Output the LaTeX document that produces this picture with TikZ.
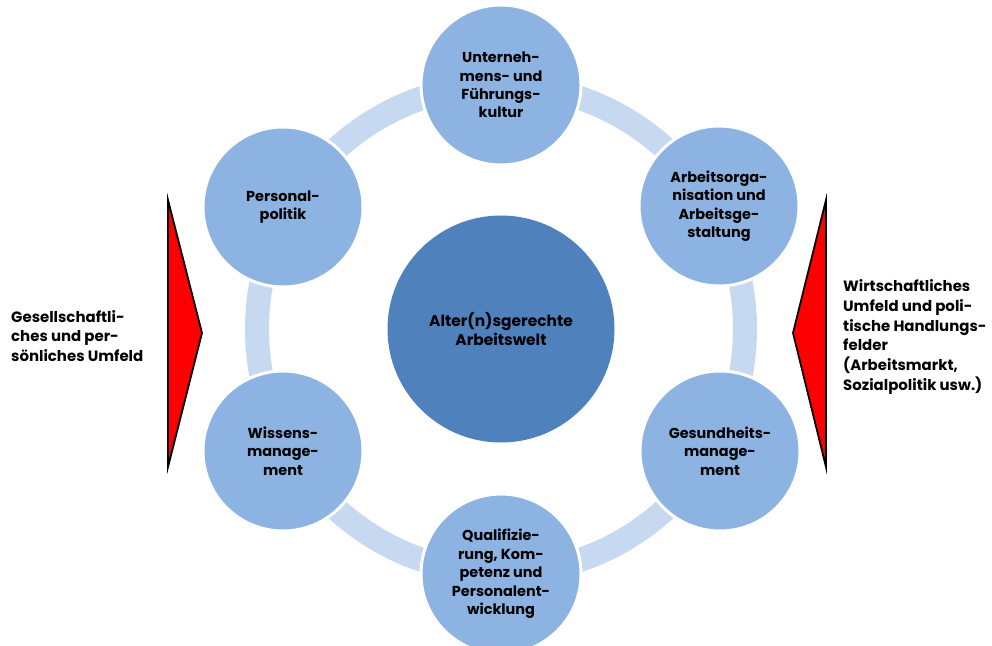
\documentclass[tikz,border=0pt]{standalone}
\usepackage{fontspec}
\setmainfont{Poppins}
\definecolor{satcol}{HTML}{8DB3E2}
\definecolor{ctrcol}{HTML}{4F81BD}
\definecolor{bandcol}{HTML}{C6D9F1}
\newcommand{\lblfont}{\fontsize{14.5}{18.5}\selectfont\bfseries}
\newcommand{\ctrfont}{\fontsize{15.5}{19}\selectfont\bfseries}
\newcommand{\sidefont}{\fontsize{15}{20}\selectfont\bfseries}
\begin{document}
\begin{tikzpicture}[x=1bp,y=-1bp,
  satnode/.style={circle,fill=satcol,draw=white,line width=3bp,minimum size=160bp,inner sep=0pt,align=center,font=\lblfont},
  ctrnode/.style={circle,fill=ctrcol,minimum size=227bp,inner sep=0pt,align=center,font=\ctrfont},
  bandline/.style={draw=bandcol,line width=24bp},
  wedge/.style={fill=red,draw=black,line width=1.8bp,line join=miter},
  sidetext/.style={align=left,font=\sidefont,inner sep=0pt,anchor=west}]
\useasboundingbox (0,0) rectangle (992,646);
\clip (0,0) rectangle (992,646);
\node[ctrnode] (c) at (501,329) {Alter(n)sgerechte\\Arbeitswelt};
\draw[bandline] (c.center) circle (244bp);
\node[satnode] (top) at (501,85) {Unterneh-\\mens- und\\Führungs-\\kultur};
\node[satnode] (ur) at (719,206) {Arbeitsorga-\\nisation und\\Arbeitsge-\\staltung};
\node[satnode] (lr) at (720,451) {Gesundheits-\\manage-\\ment};
\node[satnode] (bot) at (501,574) {Qualifizie-\\rung, Kom-\\petenz und\\Personalent-\\wicklung};
\node[satnode] (ll) at (283,451) {Wissens-\\manage-\\ment};
\node[satnode] (ul) at (283,207) {Personal-\\politik};
\filldraw[wedge] (168,200) -- (202,333) -- (168,467) -- cycle;
\filldraw[wedge] (826,200) -- (793,333) -- (826,467) -- cycle;
\node[sidetext] (lt) at (11,336) {Gesellschaftli-\\ches und per-\\sönliches Umfeld};
\node[sidetext] (rt) at (843,337) {Wirtschaftliches\\Umfeld und poli-\\tische Handlungs-\\felder\\(Arbeitsmarkt,\\Sozialpolitik usw.)};
\end{tikzpicture}
\end{document}
